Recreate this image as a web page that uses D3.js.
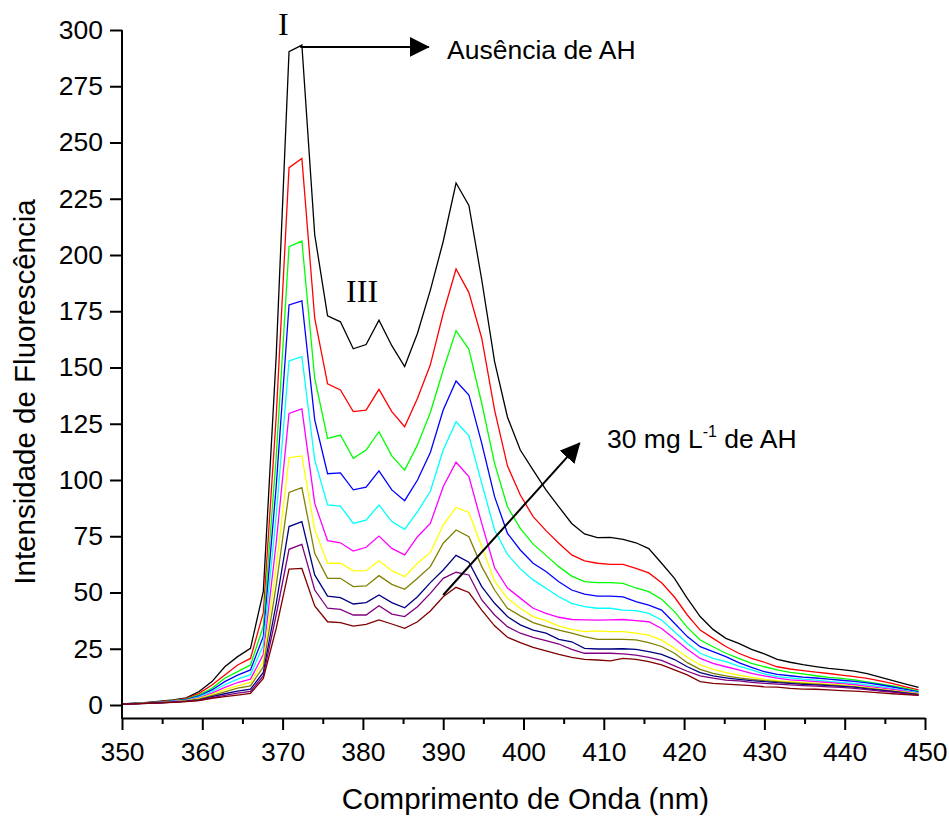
<!DOCTYPE html>
<html>
<head>
<meta charset="utf-8">
<script src="https://cdn.jsdelivr.net/npm/d3@7"></script>
<style>
  body { margin: 0; background: #ffffff; }
  svg { display: block; }
</style>
</head>
<body>
<div id="chart"></div>
<script>
// Emission spectra, one curve per humic acid (AH) concentration
const wavelength = [
  350.0, 351.6, 353.2, 354.8, 356.4, 358.0, 359.6, 361.2, 362.8, 364.4, 366.0, 367.6, 369.2,
  370.8, 372.4, 374.0, 375.6, 377.2, 378.8, 380.4, 382.0, 383.6, 385.2, 386.8, 388.4, 390.0,
  391.6, 393.2, 394.8, 396.4, 398.0, 399.6, 401.2, 402.8, 404.4, 406.0, 407.6, 409.2, 410.8, 412.4,
  414.0, 415.6, 417.2, 418.8, 420.4, 422.0, 423.6, 425.2, 426.8, 428.4, 430.0, 431.6, 433.2, 434.8,
  436.4, 438.0, 439.6, 441.2, 442.8, 444.4, 446.0, 447.6, 449.2
];

const curva01 = [
  0.5, 0.8, 1.2, 1.7, 2.3, 3.2, 6.0, 10.4, 17.0, 21.5, 25.2, 50.5, 155,
  290.4, 293.3, 209, 173, 170.3, 158.3, 160.2, 171, 159.7, 150.4, 165.2, 184.4, 206,
  232, 222, 189, 152.6, 128, 113.3, 104.4, 95.6, 88.1, 80.7, 76, 74.4, 74.5, 73.6,
  72.1, 69.5, 63, 56.3, 47.4, 39.3, 33.6, 29.6, 27.4, 24.7, 22.7, 20.3, 19, 17.9,
  17.1, 16.3, 15.7, 15.1, 13.9, 12.4, 10.8, 9.3, 7.8
];
const curva02 = [
  0.5, 0.7, 1.1, 1.5, 2.1, 2.9, 5.2, 8.9, 13.3, 17.8, 20.7, 41, 128,
  238.8, 242.9, 171.9, 142.7, 140, 130.4, 131.1, 140.3, 130.4, 123.7, 136.3, 151.2, 174,
  193.8, 183.3, 163, 131.1, 106.3, 93.3, 83.7, 77.5, 71.9, 66.7, 64.1, 63, 62.5, 62.5,
  60.7, 58.7, 54.3, 48, 40, 33.3, 29.6, 26, 23, 20.7, 19, 17, 16, 15.3,
  14.6, 14, 13.3, 12.6, 11.8, 10.7, 9.5, 8.1, 6.7
];
const curva03 = [
  0.5, 0.7, 1.0, 1.4, 1.9, 2.6, 4.5, 7.4, 11.9, 14.8, 17.8, 35, 110,
  203.7, 206.2, 145.2, 118.5, 120, 109.6, 113.3, 121.5, 110.7, 104.4, 115.6, 130, 148.9,
  166.4, 158.1, 134, 107.4, 88.1, 78.5, 71.5, 66.5, 61.5, 57.3, 54.8, 54.4, 54.4, 54.1,
  52, 50.4, 47, 41.5, 34.5, 28.9, 25.9, 23, 20.7, 18.5, 17, 15.6, 14.5, 13.8,
  13, 12.3, 11.8, 11.2, 10.3, 9.4, 8.5, 7.4, 6.2
];
const curva04 = [
  0.5, 0.7, 1.0, 1.3, 1.8, 2.4, 4.0, 6.7, 10.4, 13.3, 15.6, 30.5, 97,
  177.8, 179.6, 126.7, 102.8, 103.2, 95.6, 96.8, 104.1, 95.6, 90.8, 100, 112.2, 131.1,
  144, 137.8, 116.3, 92.6, 76.3, 68.9, 63, 59.3, 54.8, 51.1, 49.3, 48.4, 48.4, 48.1,
  45.9, 44.4, 42.2, 36.3, 30.4, 25.9, 23.7, 21.5, 18.8, 16.7, 14.8, 13.6, 13, 12.4,
  12, 11.5, 11, 10.5, 9.8, 9, 8, 6.9, 5.8
];
const curva05 = [
  0.4, 0.6, 0.9, 1.2, 1.7, 2.2, 3.6, 6.0, 9.0, 11.5, 13.5, 26.5, 84,
  152.9, 154.8, 108.9, 88.9, 88.4, 80.7, 82.2, 88.9, 81.5, 78.1, 85.9, 95, 113.3,
  125.9, 119.6, 98.5, 77.8, 67, 60.5, 55.6, 51.9, 48.1, 45.2, 43.7, 43, 43, 42.2,
  41.9, 40.7, 37.8, 32.6, 27.4, 23, 20.7, 19.3, 17.3, 15.6, 13.8, 12.6, 12.1, 11.5,
  11.1, 10.5, 10, 9.6, 8.9, 8.2, 7.3, 6.4, 5.5
];
const curva06 = [
  0.4, 0.6, 0.9, 1.2, 1.6, 2.1, 3.2, 5.3, 7.8, 10, 11.5, 22.5, 72,
  129.6, 131.6, 89.6, 73, 72.1, 68.4, 70.1, 75.1, 69.6, 66.7, 74.8, 80.7, 97,
  107.9, 101.5, 80.7, 61, 52, 47.5, 43, 40.7, 39, 38, 37.8, 37.7, 37.8, 38,
  37.5, 37, 34, 29.4, 24.8, 20.7, 18.5, 17, 15.6, 14.1, 12.9, 11.9, 11.2, 10.8,
  10.4, 10, 9.5, 9, 8.3, 7.6, 6.9, 6, 5.2
];
const curva07 = [
  0.4, 0.6, 0.8, 1.1, 1.5, 1.9, 2.9, 4.7, 6.8, 8.5, 10, 19.5, 61,
  109.9, 110.7, 77.8, 63, 63, 59.6, 59.7, 64.1, 59.7, 57, 63, 67.8, 80,
  87.8, 85.6, 70.4, 55, 47.4, 43, 39.3, 37.5, 35.1, 33.6, 32.6, 32.9, 32.6, 32.6,
  31.9, 31.1, 28.8, 25.2, 21.2, 17.8, 15.8, 14.4, 13.3, 12.3, 11.4, 10.8, 10.4, 10,
  9.6, 9.3, 8.9, 8.4, 7.7, 7.1, 6.4, 5.7, 5
];
const curva08 = [
  0.4, 0.6, 0.8, 1.1, 1.4, 1.8, 2.6, 4.2, 5.8, 7.5, 8.5, 17, 53,
  94.5, 96.6, 67.4, 56.3, 56.3, 52.6, 52.9, 57.5, 53.6, 51.4, 56.3, 61.5, 71.9,
  77.8, 74.8, 61.5, 51.1, 43, 39.6, 36.6, 34.8, 33.3, 31.9, 30.4, 29.2, 29.2, 29.2,
  28.9, 27.7, 26, 23, 18.8, 15.8, 14.1, 12.9, 12.1, 11.4, 10.8, 10.4, 9.9, 9.6,
  9.3, 8.9, 8.5, 8.1, 7.5, 6.8, 6.2, 5.5, 4.8
];
const curva09 = [
  0.4, 0.5, 0.8, 1.0, 1.3, 1.7, 2.3, 3.7, 5.0, 6.2, 7, 14.5, 45,
  79.3, 81.5, 57.8, 48.4, 47.7, 44.9, 45.5, 48.9, 45.5, 43.2, 48.1, 54.4, 60,
  66.5, 63.5, 52.6, 45.2, 39.3, 35.6, 33.3, 31.9, 29.2, 28.1, 25.2, 24.9, 24.9, 25,
  24.7, 23.7, 22.5, 20.2, 17, 14.4, 12.9, 12.1, 11.4, 10.8, 10.4, 9.9, 9.6, 9.2,
  8.9, 8.6, 8.3, 7.9, 7.2, 6.6, 6, 5.3, 4.6
];
const curva10 = [
  0.4, 0.5, 0.7, 1.0, 1.3, 1.6, 2.1, 3.3, 4.3, 5.3, 6, 13, 40,
  69.2, 71.4, 51.1, 43, 42.5, 40, 40, 44.1, 40.4, 39.3, 43.7, 49.6, 56.3,
  59, 57.8, 46.7, 40, 34.8, 31.9, 30.1, 28.6, 27.1, 24.7, 23, 23, 23, 22.7,
  22.2, 21.2, 19.8, 17.4, 15, 12.9, 11.9, 11.1, 10.7, 10.1, 9.6, 9.3, 8.9, 8.6,
  8.4, 8.1, 7.8, 7.4, 6.8, 6.2, 5.7, 5, 4.4
];
const curva11 = [
  0.4, 0.5, 0.7, 0.9, 1.2, 1.5, 1.9, 3.0, 3.7, 4.4, 5.2, 11.8, 34,
  60.4, 60.7, 44, 37, 36.6, 35.1, 35.8, 37.8, 36, 34.1, 37, 41.8, 48.1,
  52.3, 50, 42.2, 35.2, 30.1, 27.7, 25.6, 24.1, 22.5, 21.2, 20.3, 20, 19.6, 20.7,
  20.3, 19.3, 17.8, 15.6, 13.4, 10.4, 9.6, 9.3, 8.9, 8.6, 8.1, 7.9, 7.4, 7.1,
  7, 6.7, 6.4, 6.2, 5.8, 5.4, 5, 4.6, 4.3
];

const curves = [curva01, curva02, curva03, curva04, curva05, curva06,
                curva07, curva08, curva09, curva10, curva11];
const curveColors = ["#000000", "#ff0000", "#00ff00", "#0000ff", "#00ffff", "#ff00ff",
                     "#ffff00", "#808000", "#000080", "#800080", "#800000"];

const xTicks = [350, 360, 370, 380, 390, 400, 410, 420, 430, 440, 450];
const xMinorTicks = [355, 365, 375, 385, 395, 405, 415, 425, 435, 445];
const yTicks = [0, 25, 50, 75, 100, 125, 150, 175, 200, 225, 250, 275, 300];

const width = 949;
const height = 817;
const sans = "'Liberation Sans', Arial, sans-serif";
const serif = "'Liberation Serif', 'Times New Roman', serif";

const axisY = 718; // x axis sits a little below zero

const x = d3.scaleLinear().domain([350, 450]).range([122, 925]);
const y = d3.scaleLinear().domain([0, 300]).range([705, 30]);

const svg = d3.select("#chart")
  .append("svg")
  .attr("width", width)
  .attr("height", height);

// arrow head marker
svg.append("defs")
  .append("marker")
  .attr("id", "head")
  .attr("viewBox", "0 0 20 20")
  .attr("refX", 19)
  .attr("refY", 10)
  .attr("markerUnits", "userSpaceOnUse")
  .attr("markerWidth", 20)
  .attr("markerHeight", 20)
  .attr("orient", "auto")
  .append("path")
  .attr("d", "M0,0 L20,10 L0,20 Z")
  .attr("fill", "#000");

// curves
const line = d3.line()
  .x((d, i) => x(wavelength[i]))
  .y((d) => y(d));

svg.append("g")
  .selectAll("path")
  .data(curves)
  .enter()
  .append("path")
  .attr("d", line)
  .attr("fill", "none")
  .attr("stroke", (d, i) => curveColors[i])
  .attr("stroke-width", 1.3)
  .attr("stroke-linejoin", "miter");

// x axis
svg.append("g")
  .attr("transform", `translate(0,${axisY})`)
  .call(d3.axisBottom(x).tickValues(xTicks).tickSize(12).tickPadding(12).tickSizeOuter(0));

svg.append("g")
  .attr("transform", `translate(0,${axisY})`)
  .call(d3.axisBottom(x).tickValues(xMinorTicks).tickSize(6).tickFormat("").tickSizeOuter(0))
  .call((g) => g.select(".domain").remove());

// y axis
const yAxis = svg.append("g")
  .attr("transform", `translate(${x(350)},0)`)
  .call(d3.axisLeft(y).tickValues(yTicks).tickSize(12).tickPadding(7).tickSizeOuter(0));
yAxis.select(".domain").remove();

svg.append("line")
  .attr("x1", x(350))
  .attr("x2", x(350))
  .attr("y1", y(300))
  .attr("y2", axisY + 1)
  .attr("stroke", "#000")
  .attr("stroke-width", 2);

svg.selectAll(".tick line").attr("stroke", "#000").attr("stroke-width", 2);
svg.selectAll(".domain").attr("stroke", "#000").attr("stroke-width", 2);
svg.selectAll(".tick text")
  .attr("fill", "#000")
  .attr("font-family", sans)
  .attr("font-size", "26.5px");

// axis titles
svg.append("text")
  .attr("x", (x(350) + x(450)) / 2 + 2)
  .attr("y", 809)
  .attr("text-anchor", "middle")
  .attr("font-family", sans)
  .attr("font-size", "29.5px")
  .text("Comprimento de Onda (nm)");

svg.append("text")
  .attr("transform", `translate(35,${392}) rotate(-90)`)
  .attr("text-anchor", "middle")
  .attr("font-family", sans)
  .attr("font-size", "29.5px")
  .text("Intensidade de Fluorescência");

// band labels
svg.append("text")
  .attr("x", x(370.1))
  .attr("y", 35)
  .attr("text-anchor", "middle")
  .attr("font-family", serif)
  .attr("font-size", "32px")
  .text("I");

svg.append("text")
  .attr("x", x(379.9))
  .attr("y", 302)
  .attr("text-anchor", "middle")
  .attr("font-family", serif)
  .attr("font-size", "32px")
  .text("III");

// arrow: absence of AH
svg.append("line")
  .attr("x1", x(372.2))
  .attr("y1", y(292.5))
  .attr("x2", x(388.2))
  .attr("y2", y(292.5))
  .attr("stroke", "#000")
  .attr("stroke-width", 2)
  .attr("marker-end", "url(#head)");

svg.append("text")
  .attr("x", 447)
  .attr("y", 59)
  .attr("font-family", sans)
  .attr("font-size", "26.5px")
  .text("Ausência de AH");

// arrow: increasing AH
svg.append("line")
  .attr("x1", x(390.0))
  .attr("y1", y(48.9))
  .attr("x2", x(407.0))
  .attr("y2", y(116.4))
  .attr("stroke", "#000")
  .attr("stroke-width", 2)
  .attr("marker-end", "url(#head)");

const conc = svg.append("text")
  .attr("x", 607)
  .attr("y", 448)
  .attr("font-family", sans)
  .attr("font-size", "26.5px");
conc.append("tspan").text("30 mg L");
conc.append("tspan").attr("dy", -11).attr("font-size", "16px").text("-1");
conc.append("tspan").attr("dy", 11).text(" de AH");
</script>
</body>
</html>
